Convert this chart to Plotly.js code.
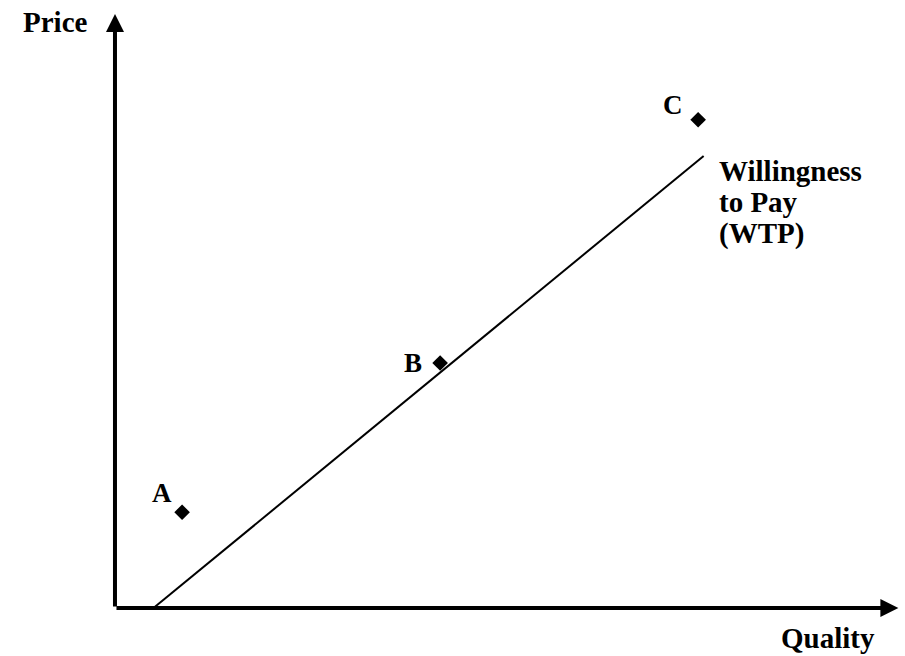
<!DOCTYPE html>
<html>
<head>
<meta charset="utf-8">
<script src="https://cdn.plot.ly/plotly-3.0.1.min.js"></script>
<style>
  html, body { margin: 0; padding: 0; background: #fff; }
  #chart { width: 905px; height: 656px; }
</style>
</head>
<body>
<div id="chart"></div>
<script>
// Willingness-to-pay line (quality on x, price on y)
const wtpQuality = [7, 107];
const wtpPrice = [0, 100];

// Products placed in quality / price space
const productNames = ["A", "B", "C"];
const productQuality = [12.2, 59.1, 106];
const productPrice = [21.2, 54.2, 108];

// Axis labels and the line's caption (one entry per caption line)
const xLabel = "Quality";
const yLabel = "Price";
const wtpLines = ["Willingness", "to Pay", "(WTP)"];

const serif = "Liberation Serif, Times New Roman, serif";
const ink = "#000";

const traces = [
  {
    x: wtpQuality, y: wtpPrice, type: "scatter", mode: "lines",
    line: { color: ink, width: 2 }, hoverinfo: "skip"
  },
  {
    x: productQuality, y: productPrice, type: "scatter", mode: "markers",
    marker: { symbol: "diamond", size: 12, color: ink }, hoverinfo: "skip"
  }
];

const textFont = { family: serif, size: 29, color: ink, weight: "bold" };
const annotations = [];
// Axes drawn as arrows from the origin
annotations.push({
  x: 0, y: 131.4, ax: 0, ay: 0, xref: "x", yref: "y", axref: "x", ayref: "y",
  text: "", showarrow: true, arrowhead: 2, arrowsize: 0.9, arrowwidth: 4, arrowcolor: ink
});
annotations.push({
  x: 142.4, y: 0, ax: 0, ay: 0, xref: "x", yref: "y", axref: "x", ayref: "y",
  text: "", showarrow: true, arrowhead: 2, arrowsize: 0.9, arrowwidth: 4, arrowcolor: ink
});
annotations.push({
  x: -10.9, y: 129.6, xref: "x", yref: "y", text: yLabel, showarrow: false,
  font: textFont
});
annotations.push({
  x: 129.6, y: -6.6, xref: "x", yref: "y", text: xLabel, showarrow: false,
  font: textFont
});
// Caption beside the top end of the WTP line, tighter leading than the default
const captionTop = 96.7, captionStep = 6.9;
wtpLines.forEach((line, i) => {
  annotations.push({
    x: 109.5, y: captionTop - i * captionStep, xref: "x", yref: "y",
    text: line, showarrow: false, xanchor: "left", align: "left",
    font: textFont
  });
});
// Point labels, set up-left of each marker
const labelDx = [-3.7, -4.9, -4.5];
const labelDy = [4.2, 0, 3.3];
productNames.forEach((name, i) => {
  annotations.push({
    x: productQuality[i] + labelDx[i], y: productPrice[i] + labelDy[i],
    xref: "x", yref: "y", text: name, showarrow: false,
    font: { family: serif, size: 27, color: ink, weight: "bold" }
  });
});

const axisBase = {
  showgrid: false, zeroline: false, showline: false, showticklabels: false,
  ticks: "", fixedrange: true
};

const layout = {
  width: 905, height: 656,
  margin: { l: 0, r: 0, t: 0, b: 0 },
  paper_bgcolor: "#fff", plot_bgcolor: "#fff",
  showlegend: false,
  xaxis: Object.assign({ range: [-20.9, 143.6] }, axisBase),
  yaxis: Object.assign({ range: [-10.6, 134.5] }, axisBase),
  annotations: annotations
};

Plotly.newPlot("chart", traces, layout, { staticPlot: true, displayModeBar: false });
</script>
</body>
</html>
